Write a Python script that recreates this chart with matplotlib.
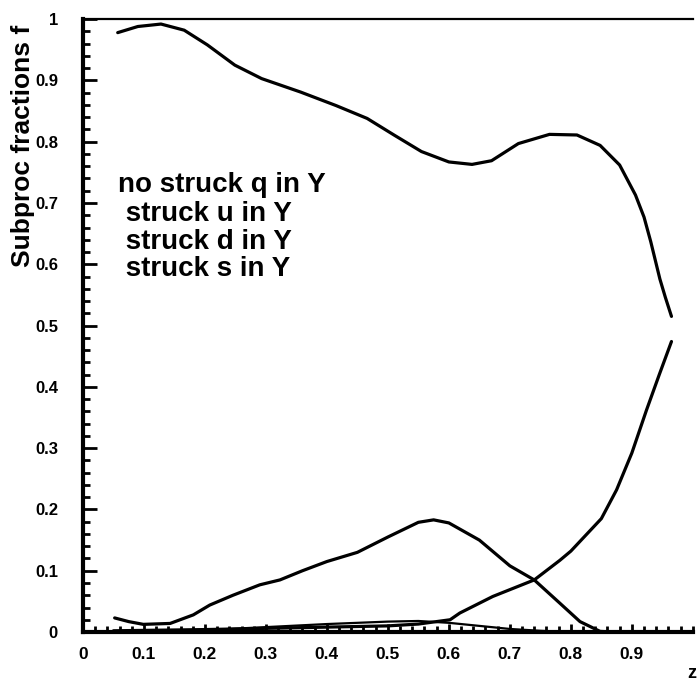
import matplotlib
matplotlib.use("Agg")
import matplotlib.pyplot as plt
from matplotlib.ticker import MultipleLocator, FixedLocator, FixedFormatter

plt.rcParams['font.family'] = ['Liberation Sans', 'DejaVu Sans']

# Subprocess fractions versus z
z_none = [0.057, 0.09, 0.128, 0.166, 0.204, 0.249, 0.293, 0.357, 0.415, 0.466, 0.51,
          0.555, 0.60, 0.638, 0.67, 0.714, 0.765, 0.81, 0.848, 0.88, 0.906, 0.92, 0.931,
          0.946, 0.955, 0.965]
f_none = [0.978, 0.988, 0.992, 0.982, 0.958, 0.925, 0.903, 0.881, 0.859, 0.838, 0.811,
          0.784, 0.767, 0.763, 0.769, 0.797, 0.812, 0.811, 0.794, 0.762, 0.713, 0.677, 0.637,
          0.576, 0.546, 0.515]

z_u = [0.052, 0.075, 0.099, 0.143, 0.181, 0.208, 0.246, 0.29, 0.323, 0.36, 0.40, 0.45,
       0.50, 0.55, 0.575, 0.60, 0.65, 0.70, 0.74, 0.782, 0.815, 0.848, 0.87]
f_u = [0.023, 0.017, 0.0125, 0.014, 0.028, 0.044, 0.060, 0.077, 0.085, 0.100, 0.115, 0.130,
       0.155, 0.179, 0.183, 0.178, 0.150, 0.108, 0.085, 0.047, 0.017, 0.001, 0.0]

z_d = [0.05, 0.2, 0.3, 0.4, 0.5, 0.55, 0.602, 0.618, 0.672, 0.74, 0.782, 0.80, 0.85,
       0.875, 0.90, 0.924, 0.945, 0.965]
f_d = [0.002, 0.004, 0.006, 0.008, 0.010, 0.013, 0.020, 0.031, 0.058, 0.085, 0.117, 0.132,
       0.185, 0.232, 0.292, 0.362, 0.42, 0.474]

z_s = [0.15, 0.2, 0.3, 0.4, 0.5, 0.55, 0.6, 0.65, 0.7, 0.75, 0.8, 0.85]
f_s = [0.001, 0.003, 0.008, 0.013, 0.017, 0.018, 0.015, 0.010, 0.005, 0.002, 0.0, 0.0]

legend_labels = ["no struck q in Y", " struck u in Y", " struck d in Y", " struck s in Y"]

x_ticks = [0, 0.1, 0.2, 0.3, 0.4, 0.5, 0.6, 0.7, 0.8, 0.9]
x_ticklabels = ["0", "0.1", "0.2", "0.3", "0.4", "0.5", "0.6", "0.7", "0.8", "0.9"]
y_ticks = [0, 0.1, 0.2, 0.3, 0.4, 0.5, 0.6, 0.7, 0.8, 0.9, 1.0]
y_ticklabels = ["0", "0.1", "0.2", "0.3", "0.4", "0.5", "0.6", "0.7", "0.8", "0.9", "1"]

fig = plt.figure(figsize=(6.97, 6.84), dpi=100)
ax = fig.add_axes([0.119, 0.076, 0.875, 0.896])

lw = 2.3
ax.plot(z_none, f_none, color="black", lw=lw, solid_capstyle="round")
ax.plot(z_u, f_u, color="black", lw=lw, solid_capstyle="round")
ax.plot(z_d, f_d, color="black", lw=lw, solid_capstyle="round")
ax.plot(z_s, f_s, color="black", lw=1.6, solid_capstyle="round")

ax.set_xlim(0, 1)
ax.set_ylim(0, 1)

ax.xaxis.set_major_locator(FixedLocator(x_ticks))
ax.xaxis.set_major_formatter(FixedFormatter(x_ticklabels))
ax.yaxis.set_major_locator(FixedLocator(y_ticks))
ax.yaxis.set_major_formatter(FixedFormatter(y_ticklabels))
ax.xaxis.set_minor_locator(MultipleLocator(0.02))
ax.yaxis.set_minor_locator(MultipleLocator(0.02))

ax.tick_params(axis="y", which="major", direction="in", length=10, width=2, pad=18,
               labelsize=12)
ax.tick_params(axis="y", which="minor", direction="in", length=5, width=2)
ax.tick_params(axis="x", which="major", direction="in", length=6, width=2, pad=11,
               labelsize=12.5)
ax.tick_params(axis="x", which="minor", direction="in", length=4, width=2)
for lab in ax.get_xticklabels() + ax.get_yticklabels():
    lab.set_fontweight("bold")

ax.spines["left"].set_linewidth(3)
ax.spines["bottom"].set_linewidth(3)
ax.spines["top"].set_linewidth(1.6)
ax.spines["right"].set_visible(False)

ax.set_ylabel("Subproc fractions f", fontsize=19, fontweight="bold")
ax.yaxis.set_label_coords(-0.079, 0.793)

fig.text(0.986, 0.003, "z", fontsize=13, fontweight="bold", ha="left", va="bottom")

legend_y = [0.729, 0.682, 0.637, 0.592]
for txt, yy in zip(legend_labels, legend_y):
    ax.text(0.057, yy, txt, fontsize=20, fontweight="bold", ha="left", va="center")

fig.savefig("out.png", dpi=100, facecolor="white")
